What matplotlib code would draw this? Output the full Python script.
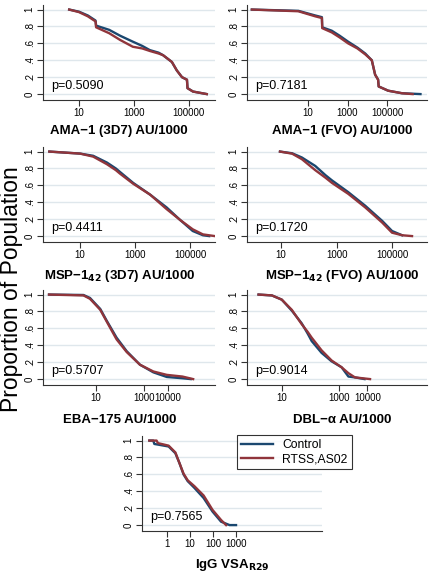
import numpy as np
import matplotlib
matplotlib.use("Agg")
import matplotlib.pyplot as plt
from matplotlib.lines import Line2D

plt.rcParams['font.family'] = ['Liberation Sans', 'DejaVu Sans']

# colours of the two arms
ctrl_color = '#1a476f'
rtss_color = '#90353b'
grid_color = '#dfe7ec'

# AMA-1 (3D7)
ama3d7_ctrl_x = [4.4, 10, 21, 40, 42, 126, 316, 912, 2000, 3800, 7900, 11500, 24000, 36300, 56000, 85000, 89000, 141000, 447000]
ama3d7_ctrl_y = [1.0, 0.975, 0.93, 0.87, 0.81, 0.76, 0.69, 0.62, 0.57, 0.52, 0.49, 0.46, 0.38, 0.28, 0.20, 0.17, 0.07, 0.03, 0.0]
ama3d7_rtss_x = [4.4, 10, 21, 40, 42, 126, 316, 912, 2000, 3800, 7900, 11500, 24000, 36300, 56000, 85000, 89000, 141000, 447000]
ama3d7_rtss_y = [1.0, 0.97, 0.92, 0.86, 0.79, 0.72, 0.64, 0.56, 0.54, 0.51, 0.48, 0.46, 0.38, 0.28, 0.20, 0.17, 0.07, 0.03, 0.0]

# AMA-1 (FVO)
amafvo_ctrl_x = [0.014, 3.2, 23, 50, 52, 158, 400, 1070, 3160, 7900, 17000, 25000, 35500, 38000, 115000, 575000, 5000000]
amafvo_ctrl_y = [1.0, 0.985, 0.93, 0.91, 0.79, 0.75, 0.69, 0.62, 0.55, 0.48, 0.40, 0.23, 0.17, 0.09, 0.04, 0.01, 0.0]
amafvo_rtss_x = [0.014, 3.2, 23, 50, 52, 158, 400, 1070, 3160, 7900, 17000, 25000, 35500, 38000, 115000, 575000, 2000000]
amafvo_rtss_y = [1.0, 0.98, 0.92, 0.90, 0.78, 0.73, 0.67, 0.60, 0.54, 0.47, 0.40, 0.23, 0.17, 0.09, 0.04, 0.01, 0.0]

# MSP-1 42 (3D7)
msp3d7_ctrl_x = [0.76, 10, 30, 95, 200, 280, 850, 3550, 14000, 44000, 126000, 295000, 500000]
msp3d7_ctrl_y = [1.0, 0.976, 0.95, 0.87, 0.80, 0.76, 0.63, 0.49, 0.34, 0.19, 0.06, 0.01, 0.0]
msp3d7_rtss_x = [0.76, 10, 30, 95, 200, 280, 850, 3550, 14000, 44000, 126000, 295000, 800000]
msp3d7_rtss_y = [1.0, 0.976, 0.94, 0.85, 0.78, 0.74, 0.62, 0.49, 0.32, 0.19, 0.08, 0.02, 0.0]

# MSP-1 42 (FVO)
mspfvo_ctrl_x = [9.1, 25, 56, 170, 400, 676, 2630, 10700, 44000, 100000, 230000]
mspfvo_ctrl_y = [1.0, 0.98, 0.93, 0.83, 0.72, 0.66, 0.52, 0.36, 0.18, 0.06, 0.01]
mspfvo_rtss_x = [9.1, 25, 56, 170, 400, 676, 2630, 10700, 44000, 100000, 230000, 525000]
mspfvo_rtss_y = [1.0, 0.975, 0.91, 0.78, 0.69, 0.63, 0.50, 0.34, 0.16, 0.04, 0.01, 0.0]

# EBA-175
eba_ctrl_x = [0.11, 3.0, 5.6, 15, 28, 72, 190, 680, 2450, 8900, 40000, 89000]
eba_ctrl_y = [1.0, 0.995, 0.96, 0.83, 0.69, 0.49, 0.33, 0.17, 0.08, 0.025, 0.01, 0.0]
eba_rtss_x = [0.11, 3.0, 5.6, 15, 28, 72, 190, 680, 2450, 8900, 40000, 112000]
eba_rtss_y = [1.0, 0.99, 0.95, 0.82, 0.68, 0.47, 0.32, 0.17, 0.09, 0.05, 0.03, 0.0]

# DBL-alpha
dbl_ctrl_x = [1.5, 4.4, 9.8, 22, 49, 79, 110, 245, 550, 1230, 2140, 3630, 7900]
dbl_ctrl_y = [1.0, 0.99, 0.94, 0.81, 0.66, 0.54, 0.45, 0.31, 0.21, 0.14, 0.03, 0.02, 0.0]
dbl_rtss_x = [1.5, 4.4, 9.8, 22, 49, 79, 110, 245, 550, 1230, 2140, 3630, 12300]
dbl_rtss_y = [1.0, 0.99, 0.94, 0.82, 0.65, 0.56, 0.49, 0.34, 0.22, 0.14, 0.07, 0.02, 0.0]

# IgG VSA R29
vsa_ctrl_x = [0.17, 0.25, 0.28, 1.17, 2.3, 3.5, 5.2, 7.9, 15.5, 39, 95, 224, 525, 1000]
vsa_ctrl_y = [1.0, 1.0, 0.96, 0.93, 0.85, 0.73, 0.60, 0.52, 0.44, 0.32, 0.16, 0.04, 0.0, 0.0]
vsa_rtss_x = [0.17, 0.35, 0.4, 1.17, 2.3, 3.5, 5.2, 7.9, 15.5, 39, 95, 224, 370]
vsa_rtss_y = [1.0, 1.0, 0.97, 0.94, 0.86, 0.73, 0.61, 0.53, 0.46, 0.35, 0.18, 0.06, 0.0]

p_values = ['0.5090', '0.7181', '0.4411', '0.1720', '0.5707', '0.9014', '0.7565']
xlabels = ['AMA−1 (3D7) AU/1000', 'AMA−1 (FVO) AU/1000',
           r'MSP−1$_{\mathbf{42}}$ (3D7) AU/1000', r'MSP−1$_{\mathbf{42}}$ (FVO) AU/1000',
           'EBA−175 AU/1000', 'DBL−α AU/1000', r'IgG VSA$_{\mathbf{R29}}$']
xticks = [[10, 1000, 100000], [10, 1000, 100000], [10, 1000, 100000], [10, 1000, 100000],
          [10, 1000, 10000], [10, 1000, 10000], [1, 10, 100, 1000]]

W, H = 430, 575
fig = plt.figure(figsize=(W / 100, H / 100), dpi=100)

# pixel boxes (left, top, right, bottom), log10 x-limits, label centre
layout = [
    ((43, 4.5, 215, 100), (-0.31, 5.95), (119, 131)),
    ((247, 4.5, 427, 100), (-2.1, 7.03), (342, 131)),
    ((43, 146.5, 215, 242), (-0.35, 5.91), (120, 276)),
    ((247, 146.5, 427, 242), (-0.23, 6.26), (342, 276)),
    ((43, 289.5, 215, 385), (-1.21, 5.96), (120, 420)),
    ((247, 289.5, 427, 385), (-0.23, 6.09), (342, 420)),
    ((142, 435.5, 322, 531), (-1.09, 6.74), (232, 565)),
]
series = [
    (ama3d7_ctrl_x, ama3d7_ctrl_y, ama3d7_rtss_x, ama3d7_rtss_y),
    (amafvo_ctrl_x, amafvo_ctrl_y, amafvo_rtss_x, amafvo_rtss_y),
    (msp3d7_ctrl_x, msp3d7_ctrl_y, msp3d7_rtss_x, msp3d7_rtss_y),
    (mspfvo_ctrl_x, mspfvo_ctrl_y, mspfvo_rtss_x, mspfvo_rtss_y),
    (eba_ctrl_x, eba_ctrl_y, eba_rtss_x, eba_rtss_y),
    (dbl_ctrl_x, dbl_ctrl_y, dbl_rtss_x, dbl_rtss_y),
    (vsa_ctrl_x, vsa_ctrl_y, vsa_rtss_x, vsa_rtss_y),
]

for i, ((l, t, r, b), (xl0, xl1), (lx, ly)) in enumerate(layout):
    ax = fig.add_axes([l / W, 1 - b / H, (r - l) / W, (b - t) / H])
    cx, cy, rx, ry = series[i]
    ax.plot(cx, cy, color=ctrl_color, lw=1.7, solid_joinstyle='round')
    ax.plot(rx, ry, color=rtss_color, lw=1.7, solid_joinstyle='round')
    ax.set_xscale('log')
    ax.set_xlim(10 ** xl0, 10 ** xl1)
    ax.set_ylim(-0.07, 1.06)
    ax.set_xticks(xticks[i])
    ax.set_xticklabels([str(v) for v in xticks[i]], fontsize=7)
    ax.xaxis.set_minor_locator(matplotlib.ticker.NullLocator())
    ax.set_yticks([0, 0.2, 0.4, 0.6, 0.8, 1.0])
    ax.set_yticklabels(['0', '.2', '.4', '.6', '.8', '1'], fontsize=7,
                       rotation=90, va='center')
    ax.tick_params(length=4, width=0.8, pad=2, color='#333333')
    ax.grid(axis='y', color=grid_color, lw=1)
    ax.set_axisbelow(True)
    for s in ['top', 'right']:
        ax.spines[s].set_visible(False)
    for s in ['left', 'bottom']:
        ax.spines[s].set_linewidth(0.8)
        ax.spines[s].set_color('#333333')
    ax.text(0.045, 0.09, 'p=' + p_values[i], transform=ax.get_yaxis_transform(),
            fontsize=9, va='center', ha='left')
    fig.text(lx / W, 1 - ly / H, xlabels[i], fontsize=9.5, fontweight='bold',
             ha='center', va='center')

fig.text(12 / W, 1 - 289 / H, 'Proportion of Population', rotation=90,
         fontsize=16.5, ha='center', va='center')

handles = [Line2D([], [], color=ctrl_color, lw=1.7),
           Line2D([], [], color=rtss_color, lw=1.7)]
leg = fig.legend(handles, ['Control', 'RTSS,AS02'], loc='upper left',
                 bbox_to_anchor=(237 / W, 1 - 435 / H), fontsize=8.7,
                 frameon=True, fancybox=False, borderaxespad=0,
                 handlelength=2.6, handletextpad=0.8, borderpad=0.35,
                 labelspacing=0.15)
leg.get_frame().set_edgecolor('black')
leg.get_frame().set_linewidth(0.8)

fig.savefig('out.png', dpi=100)
